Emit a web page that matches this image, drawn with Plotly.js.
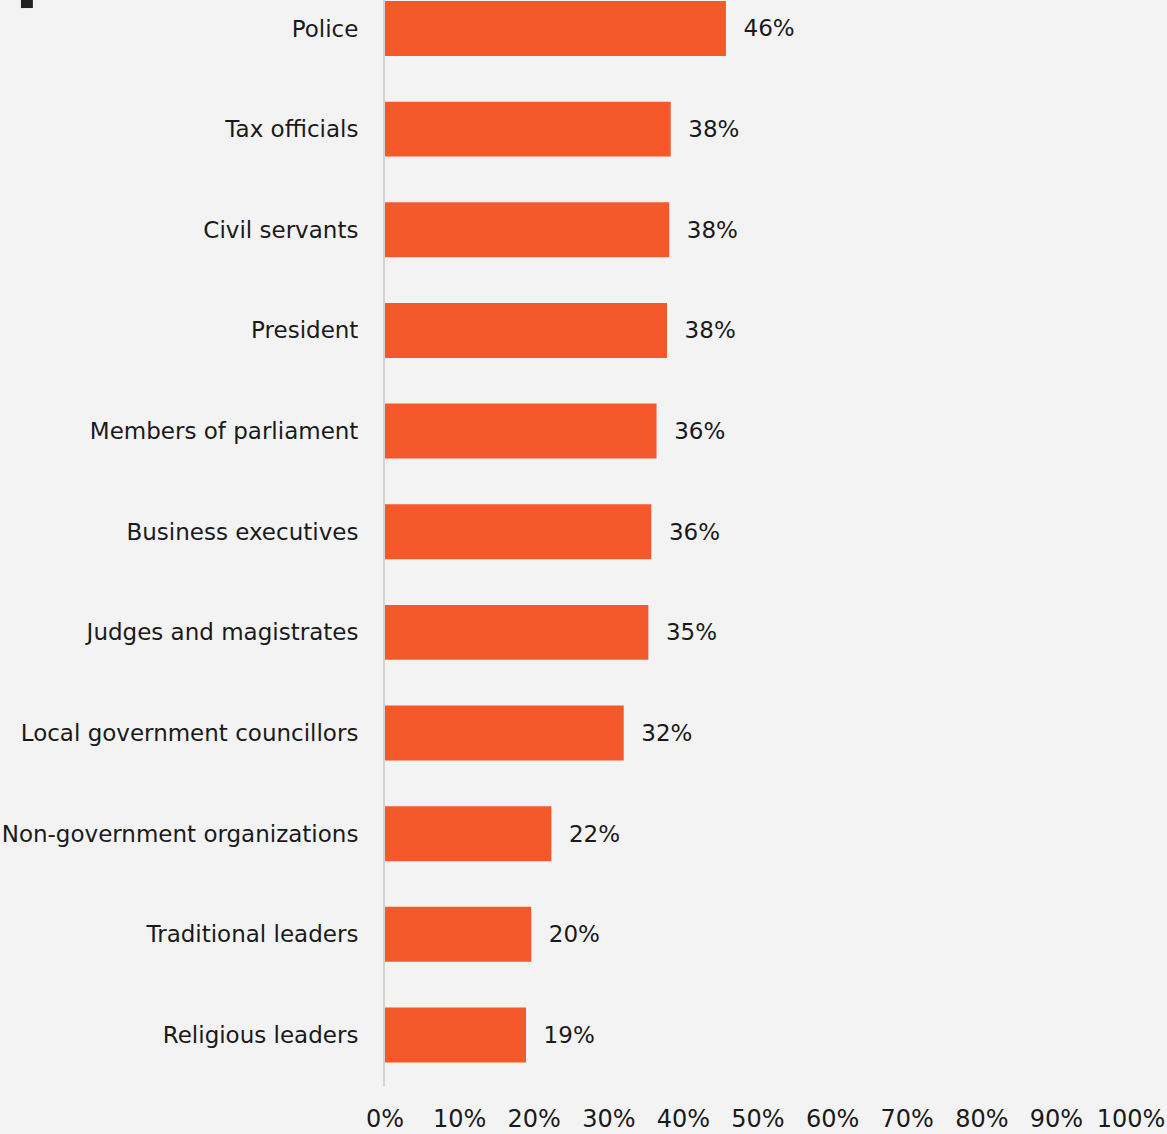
<!DOCTYPE html>
<html>
<head>
<meta charset="utf-8">
<script src="https://cdn.plot.ly/plotly-3.0.1.min.js"></script>
<style>
html,body{margin:0;padding:0;background:#f3f3f3;}
#chart{width:1167px;height:1134px;}
</style>
</head>
<body>
<div id="chart"></div>
<script>
const categories = [
  "Police",
  "Tax officials",
  "Civil servants",
  "President",
  "Members of parliament",
  "Business executives",
  "Judges and magistrates",
  "Local government councillors",
  "Non-government organizations",
  "Traditional leaders",
  "Religious leaders"
];
const values = [45.7, 38.3, 38.1, 37.8, 36.4, 35.7, 35.3, 32.0, 22.3, 19.6, 18.9];
const tickValues = [0, 10, 20, 30, 40, 50, 60, 70, 80, 90, 100];
const tickLabels = ["0%", "10%", "20%", "30%", "40%", "50%", "60%", "70%", "80%", "90%", "100%"];

const font = "DejaVu Sans, sans-serif";

const trace = {
  type: "bar",
  orientation: "h",
  y: categories,
  x: values,
  width: 0.546,
  marker: {color: "#F4582B"},
  text: values.map(v => "\u00a0\u00a0" + Math.round(v) + "%"),
  textposition: "outside",
  textfont: {family: font, size: 23, color: "#1a1a1a"},
  cliponaxis: false,
  hoverinfo: "skip"
};

const layout = {
  width: 1167,
  height: 1134,
  margin: {l: 385, r: 36, t: 0, b: 48},
  paper_bgcolor: "#f3f3f3",
  plot_bgcolor: "rgba(0,0,0,0)",
  showlegend: false,
  font: {family: font, size: 23, color: "#1a1a1a"},
  xaxis: {
    range: [0, 100],
    tickvals: tickValues,
    ticktext: tickLabels,
    showgrid: false,
    zeroline: false,
    showline: false,
    ticks: "",
    ticklabelstandoff: 16,
    tickfont: {family: font, size: 24, color: "#1a1a1a"},
    fixedrange: true
  },
  yaxis: {
    type: "category",
    categoryorder: "array",
    categoryarray: categories,
    range: [10.507, -0.283],
    showgrid: false,
    zeroline: false,
    showline: true,
    linecolor: "#d4d4d4",
    linewidth: 2,
    ticks: "",
    ticklabelstandoff: 20,
    tickfont: {family: font, size: 23, color: "#1a1a1a"},
    fixedrange: true
  },
  shapes: [
    {type: "rect", xref: "paper", yref: "paper", x0: -0.488, x1: -0.472, y0: 0.9926, y1: 1.0, fillcolor: "#222", line: {width: 0}}
  ]
};

Plotly.newPlot("chart", [trace], layout, {displayModeBar: false, staticPlot: true});
</script>
</body>
</html>
